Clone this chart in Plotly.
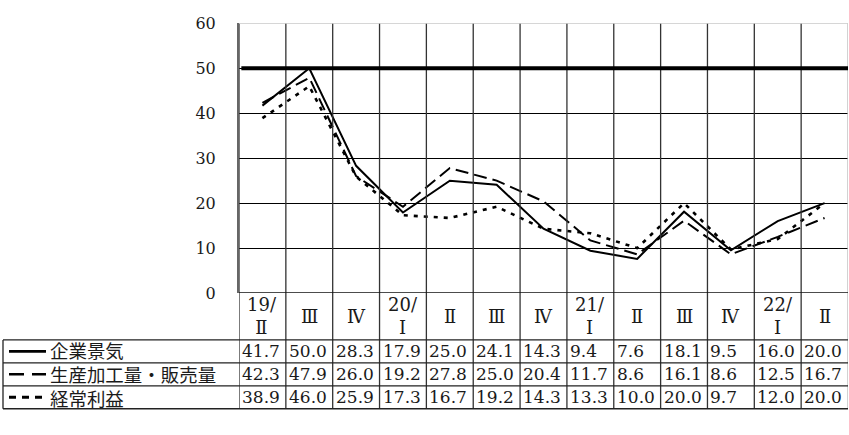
import plotly.graph_objects as go

# Quarter labels (year / quarter)
quarters = ["19/\nⅡ", "Ⅲ", "Ⅳ", "20/\nⅠ", "Ⅱ", "Ⅲ", "Ⅳ", "21/\nⅠ", "Ⅱ", "Ⅲ", "Ⅳ", "22/\nⅠ", "Ⅱ"]

# Series values (DI)
business = [41.7, 50.0, 28.3, 17.9, 25.0, 24.1, 14.3, 9.4, 7.6, 18.1, 9.5, 16.0, 20.0]
production = [42.3, 47.9, 26.0, 19.2, 27.8, 25.0, 20.4, 11.7, 8.6, 16.1, 8.6, 12.5, 16.7]
profit = [38.9, 46.0, 25.9, 17.3, 16.7, 19.2, 14.3, 13.3, 10.0, 20.0, 9.7, 12.0, 20.0]

series_names = ["企業景気", "生産加工量・販売量", "経常利益"]
y_ticks = [0, 10, 20, 30, 40, 50, 60]
reference_level = 50

W, H = 849, 435
PLOT_L, PLOT_R, PLOT_T, PLOT_B = 239, 848, 15, 297
ROW_TOP = [346, 370, 394]
ROW_H = 24
TABLE_BOTTOM = ROW_TOP[-1] + ROW_H

SERIF = "DejaVu Serif"
JP = "Noto Sans CJK JP"
INK = "#1a1a1a"

def px(x):
    return x / W

def py(y):
    return (H - y) / H

styles = [
    dict(color="#000", width=2, dash="solid"),
    dict(color="#000", width=2, dash="13px,6px"),
    dict(color="#000", width=2.6, dash="4px,6px"),
]
sample_dash = ["solid", "15px,8px", "7px,6px"]

xs = list(range(len(quarters)))
fig = go.Figure()
for name, vals, st in zip(series_names, [business, production, profit], styles):
    fig.add_trace(go.Scatter(x=xs, y=vals, mode="lines", name=name, line=st,
                             showlegend=False, hoverinfo="skip"))

shapes = []
n = len(quarters)
# vertical cell borders through plot and table
for i in range(n + 1):
    edge = i - 0.5
    color = "#bbb" if i == n else "#333"
    shapes.append(dict(type="line", xref="x", yref="paper", x0=edge, x1=edge,
                       y0=py(TABLE_BOTTOM), y1=py(PLOT_T),
                       line=dict(color=color, width=1.3), layer="above"))
# top border of plot
shapes.append(dict(type="line", xref="paper", yref="y", x0=px(PLOT_L), x1=px(PLOT_R),
                   y0=y_ticks[-1], y1=y_ticks[-1], line=dict(color="#c8c8c8", width=1.3),
                   layer="above"))
# x axis baseline
shapes.append(dict(type="line", xref="paper", yref="y", x0=px(PLOT_L), x1=px(PLOT_R),
                   y0=0, y1=0, line=dict(color="#111", width=1.5), layer="above"))
# thick reference line
shapes.append(dict(type="line", xref="x", yref="y", x0=-0.45, x1=n - 0.5,
                   y0=reference_level, y1=reference_level,
                   line=dict(color="#000", width=4), layer="above"))
# table horizontal lines
for y in ROW_TOP + [TABLE_BOTTOM]:
    shapes.append(dict(type="line", xref="paper", yref="paper", x0=px(3), x1=px(PLOT_R),
                       y0=py(y), y1=py(y), line=dict(color="#222", width=1.3)))
# left border of label column
shapes.append(dict(type="line", xref="paper", yref="paper", x0=px(3), x1=px(3),
                   y0=py(ROW_TOP[0]), y1=py(TABLE_BOTTOM), line=dict(color="#222", width=1.3)))
# legend line samples in the label column
for top, st, dsh in zip(ROW_TOP, styles, sample_dash):
    yc = py(top + ROW_H / 2)
    shapes.append(dict(type="line", xref="paper", yref="paper", x0=px(9), x1=px(46),
                       y0=yc, y1=yc, line=dict(color="#000", width=st["width"] + 0.6,
                                               dash=dsh)))

annotations = []
# quarter header
header_mid = (PLOT_B + ROW_TOP[0]) / 2
for i, q in enumerate(quarters):
    annotations.append(dict(x=i, xref="x", y=py(header_mid), yref="paper",
                            text=q.replace("\n", "<br>"), showarrow=False,
                            xanchor="center", yanchor="middle",
                            font=dict(family=SERIF, size=18, color=INK)))
# series names: one block, line pitch = 1.3 * size = row height
label_size = ROW_H / 1.3
annotations.append(dict(x=px(48), xref="paper",
                        y=py(ROW_TOP[0] + 1.5 * ROW_H), yref="paper",
                        text="<br>".join(series_names), showarrow=False,
                        xanchor="left", yanchor="middle", align="left",
                        font=dict(family=JP, size=label_size, color=INK)))
# table values
for top, vals in zip(ROW_TOP, [business, production, profit]):
    yc = py(top + ROW_H / 2)
    for i, v in enumerate(vals):
        annotations.append(dict(x=i - 0.5, xref="x", y=yc, yref="paper",
                                text=f"{v:.1f}", showarrow=False, xanchor="left",
                                yanchor="middle", xshift=1,
                                font=dict(family=SERIF, size=17, color=INK)))

fig.update_layout(
    width=W, height=H, autosize=False,
    margin=dict(l=0, r=0, t=0, b=0),
    paper_bgcolor="white", plot_bgcolor="white",
    xaxis=dict(domain=[px(PLOT_L), px(PLOT_R)], range=[-0.5, n - 0.5],
               showgrid=False, zeroline=False, showticklabels=False, showline=False),
    yaxis=dict(domain=[py(PLOT_B), py(PLOT_T)], range=[0, 60], tickvals=y_ticks,
               showgrid=True, gridcolor="#000", gridwidth=1, zeroline=False,
               showline=True, linecolor="#666", linewidth=2, ticks="",
               ticklabelstandoff=18,
               tickfont=dict(family=SERIF, size=16, color=INK)),
    shapes=shapes, annotations=annotations,
)

fig.write_html("out.html")
